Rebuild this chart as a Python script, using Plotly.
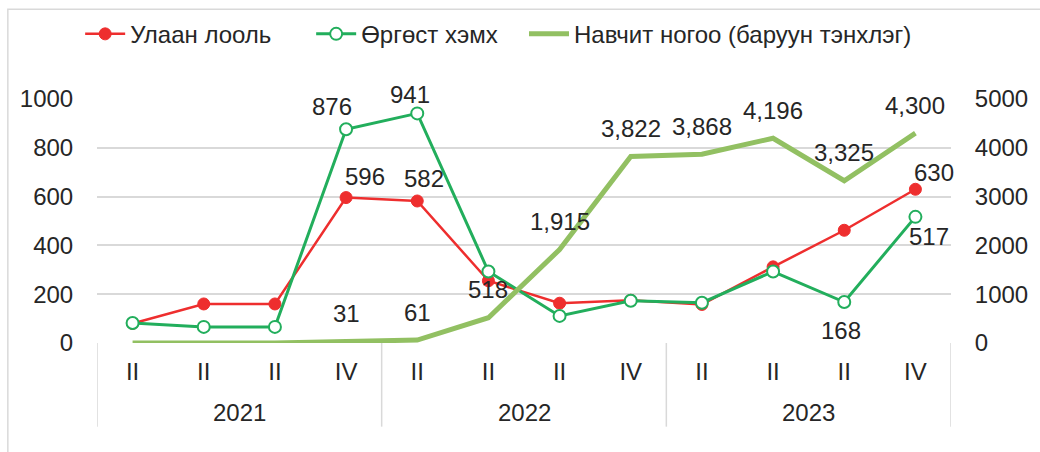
import plotly.graph_objects as go

# ---- data ----
years = ["2021", "2022", "2023"]
quarters = ["II", "II", "II", "IV", "II", "II", "II", "IV", "II", "II", "II", "IV"]
year_of_point = ["2021"] * 4 + ["2022"] * 4 + ["2023"] * 4

tomato = [80, 160, 160, 596, 582, 255, 163, 175, 158, 312, 462, 630]
cucumber = [82, 66, 66, 876, 941, 293, 111, 173, 165, 293, 168, 517]
greens = [0, 0, 0, 31, 61, 518, 1915, 3822, 3868, 4196, 3325, 4300]

tomato_labels = ["", "", "", "596", "582", "", "", "", "", "", "", "630"]
cucumber_labels = ["", "", "", "876", "941", "", "", "", "", "", "168", "517"]
greens_labels = ["", "", "", "31", "61", "518", "1,915", "3,822", "3,868", "4,196", "3,325", "4,300"]

names = ["Улаан лооль", "Өргөст хэмх", "Навчит ногоо (баруун тэнхлэг)"]

# ---- style ----
RED = "#EE2E2E"
GREEN = "#22AE5C"
LGREEN = "#92C062"
TXT = "#262626"
GRID = "#D9D9D9"
FONT = "Liberation Sans, Arial, sans-serif"
FS = 24

W, H = 1040, 452
L, R, T, B = 97, 81, 98, 109
pw, ph = W - L - R, H - T - B

def px_to_paper_x(px):
    return (px - L) / pw

def px_to_paper_y(py):
    return (H - B - py) / ph

x = list(range(len(quarters)))

fig = go.Figure()
fig.add_trace(go.Scatter(
    x=x, y=tomato, name=names[0], mode="lines+markers",
    line=dict(color=RED, width=2.5),
    marker=dict(color=RED, size=12, line=dict(color=RED, width=1)),
    legend="legend",
))
fig.add_trace(go.Scatter(
    x=x, y=cucumber, name=names[1], mode="lines+markers",
    line=dict(color=GREEN, width=3),
    marker=dict(color="white", size=12, line=dict(color=GREEN, width=2)),
    legend="legend",
))
fig.add_trace(go.Scatter(
    x=x, y=greens, name=names[2], mode="lines", yaxis="y2",
    line=dict(color=LGREEN, width=5),
    legend="legend2",
))

annotations = []
# data label offsets (dx, dy in px; dy positive = up)
red_off = {3: (19, 21), 4: (7, 22), 11: (19, 17)}
cuc_off = {3: (-14, 23), 4: (-7, 19), 10: (-3, -28), 11: (14, -20)}
lab_font = dict(size=FS, color=TXT, family=FONT)
for i, t in enumerate(tomato_labels):
    if t:
        dx, dy = red_off.get(i, (0, 22))
        annotations.append(dict(x=i, y=tomato[i], xref="x", yref="y", text=t,
                                showarrow=False, xshift=dx, yshift=dy, font=lab_font))
for i, t in enumerate(cucumber_labels):
    if t:
        dx, dy = cuc_off.get(i, (0, 22))
        annotations.append(dict(x=i, y=cucumber[i], xref="x", yref="y", text=t,
                                showarrow=False, xshift=dx, yshift=dy, font=lab_font))
for i, t in enumerate(greens_labels):
    if t:
        annotations.append(dict(x=i, y=greens[i], xref="x", yref="y2", text=t,
                                showarrow=False, xshift=0, yshift=28, font=lab_font))

# year labels and separators
shapes = []
sep_bottom = px_to_paper_y(427)
bounds = [-0.5]
for yr in years:
    idx = [i for i, v in enumerate(year_of_point) if v == yr]
    annotations.append(dict(x=sum(idx) / len(idx), y=px_to_paper_y(413), xref="x", yref="paper",
                            text=yr, showarrow=False, yanchor="middle", font=lab_font))
    bounds.append(max(idx) + 0.5)
for bx in bounds:
    shapes.append(dict(type="line", xref="x", yref="paper", x0=bx, x1=bx, y0=0, y1=sep_bottom,
                       line=dict(color=GRID, width=1.5)))

# chart border
shapes.append(dict(type="rect", xref="paper", yref="paper",
                   x0=px_to_paper_x(7), x1=px_to_paper_x(1100),
                   y0=px_to_paper_y(8), y1=px_to_paper_y(520),
                   line=dict(color=GRID, width=1.5), layer="below"))

leg_common = dict(orientation="h", yanchor="middle", y=px_to_paper_y(33), xanchor="left",
                  font=dict(size=FS, color=TXT, family=FONT),
                  bgcolor="rgba(0,0,0,0)", itemwidth=40, tracegroupgap=0)

fig.update_layout(
    width=W, height=H,
    margin=dict(l=L, r=R, t=T, b=B, pad=0),
    paper_bgcolor="white", plot_bgcolor="white",
    font=dict(family=FONT, size=FS, color=TXT),
    showlegend=True,
    legend=dict(x=px_to_paper_x(80), entrywidth=176, entrywidthmode="pixels", **leg_common),
    legend2=dict(x=px_to_paper_x(528), **leg_common),
    xaxis=dict(range=[-0.5, 11.5], tickmode="array", tickvals=x, ticktext=quarters,
               showgrid=False, zeroline=False, showline=False,
               ticks="outside", ticklen=7, tickcolor="rgba(0,0,0,0)",
               tickfont=lab_font),
    yaxis=dict(range=[0, 1000], dtick=200, showgrid=True, gridcolor=GRID, gridwidth=1.5,
               zeroline=False, showline=False, ticks="outside", ticklen=18,
               tickcolor="rgba(0,0,0,0)", tickfont=lab_font),
    yaxis2=dict(range=[0, 5000], dtick=1000, overlaying="y", side="right", showgrid=False,
                zeroline=False, showline=False, ticks="outside", ticklen=18,
                tickcolor="rgba(0,0,0,0)", tickfont=lab_font),
    annotations=annotations,
    shapes=shapes,
)

fig.write_html("out.html", config={"displayModeBar": False},
               post_script="document.body.style.margin='0';document.body.style.overflow='hidden';")
